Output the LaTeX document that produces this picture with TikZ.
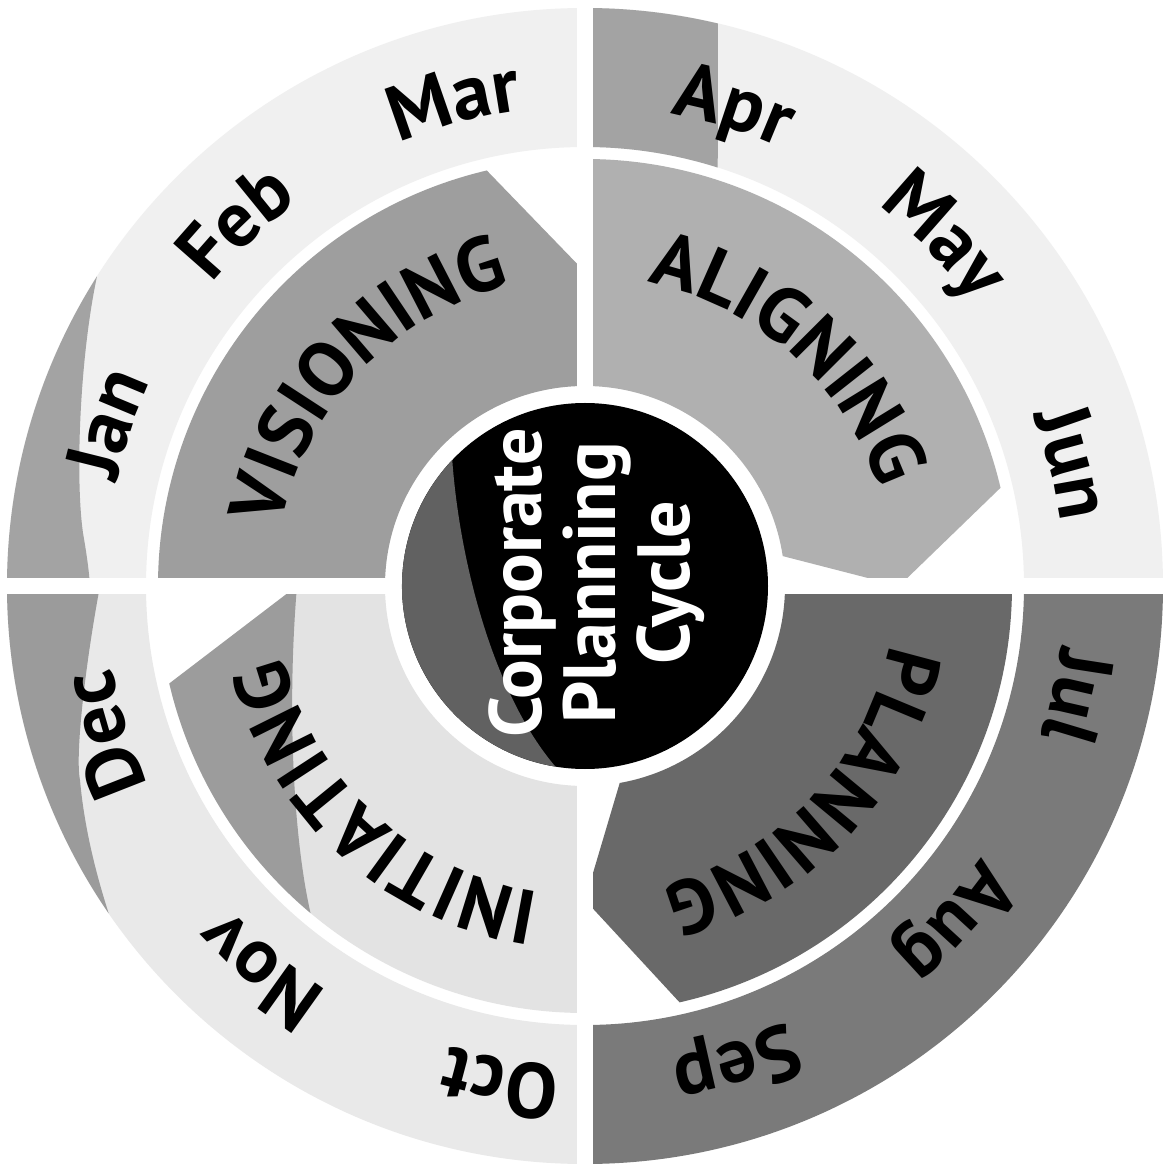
\documentclass[tikz,border=0pt]{standalone}
\usepackage{fontspec}
\setmainfont{PT Sans}
\usetikzlibrary{decorations.text}
\newcommand\mfont{\fontsize{78}{78}\selectfont\bfseries}
\newcommand\pfont{\fontsize{77}{77}\selectfont\bfseries}
\newcommand\monthlabel[2]{\path[decorate, decoration={text along path, text align=center, text={|\mfont|#1}}] ({#2+40}:480) arc[start angle={#2+40}, end angle={#2-40}, radius=480];}
\newcommand\phaselabel[2]{\path[decorate, decoration={text along path, text align=center, text={|\pfont|#1}}] ({#2+75}:310) arc[start angle={#2+75}, end angle={#2-75}, radius=310];}
\definecolor{ringlight}{gray}{0.94}
\definecolor{ringdark}{gray}{0.48}
\definecolor{patch}{gray}{0.64}
\definecolor{vision}{gray}{0.62}
\definecolor{align}{gray}{0.69}
\definecolor{plan}{gray}{0.41}
\definecolor{init}{gray}{0.89}
\definecolor{initdark}{gray}{0.61}
\definecolor{coregray}{gray}{0.38}
\tikzset{
  gapstrip/.style={fill=white},
}
\begin{document}
\begin{tikzpicture}[x=1pt,y=1pt]
\useasboundingbox (-585,-583) rectangle (577,586);
\fill[white] (-585,-583) rectangle (577,586);
% month ring quadrants
\fill[ringlight] (90:439) -- (90:578) arc[start angle=90,end angle=180,radius=578] -- (180:439) arc[start angle=180,end angle=90,radius=439] -- cycle;
\fill[ringlight] (0:439) -- (0:578) arc[start angle=0,end angle=90,radius=578] -- (90:439) arc[start angle=90,end angle=0,radius=439] -- cycle;
\fill[ringlight!97!black] (180:439) -- (180:578) arc[start angle=180,end angle=270,radius=578] -- (270:439) arc[start angle=270,end angle=180,radius=439] -- cycle;
\fill[ringdark] (270:439) -- (270:578) arc[start angle=270,end angle=360,radius=578] -- (0:439) arc[start angle=0,end angle=-90,radius=439] -- cycle;
% month ring patches
\fill[patch] (147.6:578) .. controls (-505,230) and (-510,110) .. (-502,53) .. controls (-498,30) and (-496,15) .. (-495,0) -- (-578,0) arc[start angle=180,end angle=147.6,radius=578] -- cycle;
\fill[patch!95!black] (-485,0) .. controls (-500,-80) and (-510,-170) .. (-505,-194) .. controls (-500,-250) and (-485,-300) .. (214.5:578) arc[start angle=214.5,end angle=180,radius=578] -- cycle;
\fill[patch] (90:439) -- (90:578) arc[start angle=90,end angle=76.7,radius=578] -- (72.4:439) arc[start angle=72.4,end angle=90,radius=439] -- cycle;
% phase ring
\fill[vision] (180:200) -- (180:427) arc[start angle=180,end angle=103.3,radius=427] -- (0,314) -- (90:200) arc[start angle=90,end angle=180,radius=200] -- cycle;
\fill[align] (90:200) -- (90:427) arc[start angle=90,end angle=13.3,radius=427] -- (314,0) -- (8.6:200) arc[start angle=8.6,end angle=90,radius=200] -- cycle;
\fill[plan] (0:200) -- (0:427) arc[start angle=0,end angle=-77.2,radius=427] -- (0,-314) -- (-80:200) arc[start angle=-80,end angle=0,radius=200] -- cycle;
\fill[init] (270:200) -- (270:427) arc[start angle=270,end angle=193.2,radius=427] -- (-288,0) -- (180:200) arc[start angle=180,end angle=270,radius=200] -- cycle;
\fill[initdark] (-288,0) -- (193.2:427) arc[start angle=193.2,end angle=230,radius=427] .. controls (-292,-250) and (-298,-120) .. (-288,0) -- cycle;
% white gaps
\fill[gapstrip] (-8,-590) rectangle (8,590);
\fill[gapstrip] (-590,-8) rectangle (590,8);
% centre
\fill[black] (0,0) circle[radius=183];
\fill[coregray] (136.5:183) .. controls (-125,20) and (-90,-110) .. (260.7:183) arc[start angle=260.7,end angle=136.5,radius=183] -- cycle;
\node[rotate=90, align=center, text=white, inner sep=0pt, font=\fontsize{74}{74}\selectfont\bfseries] (title) at (12,3) {Corporate\\Planning\\Cycle};
% month labels
\monthlabel{Jan}{161.2}
\monthlabel{Feb}{133.8}
\monthlabel{Mar}{105.2}
\monthlabel{Apr}{72.8}
\monthlabel{May}{44.2}
\monthlabel{Jun}{14.2}
\monthlabel{Jul}{-12.7}
\monthlabel{Aug}{-42.2}
\monthlabel{Sep}{-72.4}
\monthlabel{Oct}{-99.7}
\monthlabel{Nov}{-130.2}
\monthlabel{Dec}{-162.9}
% phase labels
\phaselabel{VISIONING}{136.5}
\phaselabel{ALIGNING}{48.3}
\phaselabel{PLANNING}{-43.3}
\phaselabel{INITIATING}{-132.7}
\end{tikzpicture}
\end{document}
